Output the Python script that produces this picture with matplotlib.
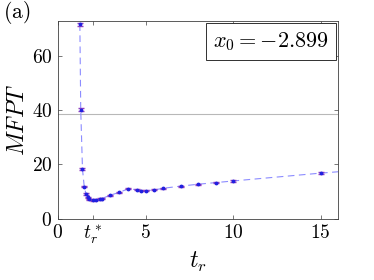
import matplotlib
matplotlib.use("Agg")
import matplotlib.pyplot as plt
import numpy as np

plt.rcParams['mathtext.fontset'] = 'cm'
plt.rcParams['font.family'] = ['DejaVu Serif']

t_r = [1.25, 1.3, 1.4, 1.5, 1.6, 1.7, 1.8, 2.0, 2.2, 2.4, 2.5, 3.0, 3.5, 4.0,
       4.5, 4.75, 5.0, 5.5, 6.0, 7.0, 8.0, 9.0, 10.0, 15.0, 20.0]
mfpt = [71.7, 40.2, 18.3, 11.8, 9.1, 7.9, 7.1, 6.9, 7.0, 7.25, 7.4, 8.7, 9.7, 11.0,
        10.7, 10.3, 10.3, 10.6, 11.2, 12.0, 12.7, 13.3, 13.9, 16.8, 19.3]
err = [0.6, 0.5, 0.3, 0.25, 0.2, 0.2, 0.2, 0.2, 0.2, 0.2, 0.2, 0.2, 0.2, 0.2,
       0.2, 0.2, 0.2, 0.2, 0.2, 0.2, 0.2, 0.2, 0.2, 0.25, 0.3]
h_line = 38.5
t_star = 2.0
x0_label = r'$x_0 = -2.899$'
xtick_vals = [0, t_star, 5, 10, 15]
xtick_labels = [r'$0$', r'$t_r^*$', r'$5$', r'$10$', r'$15$']
ytick_vals = [0, 20, 40, 60]
ytick_labels = [r'$0$', r'$20$', r'$40$', r'$60$']

fig = plt.figure(figsize=(3.74, 2.8), dpi=100)
ax = fig.add_axes([0.155, 0.219, 0.749, 0.707])

ax.axhline(h_line, color='#b8b8b8', lw=0.8, zorder=1)
ax.plot(t_r, mfpt, ls=(0, (6, 4)), color='#8c8cff', lw=0.8, zorder=2)
ax.errorbar(t_r, mfpt, yerr=err, fmt='.', color='#2020e0', ecolor='#9040c0',
            elinewidth=0.8, capsize=2, markersize=3.5, zorder=3)

ax.set_xlim(0, 16)
ax.set_ylim(0, 73)
ax.set_xticks(xtick_vals)
ax.set_xticklabels(xtick_labels, fontsize=14)
ax.set_yticks(ytick_vals)
ax.set_yticklabels(ytick_labels, fontsize=14)
ax.tick_params(direction='in', top=True, right=True, length=3, width=0.5,
               color='#404040', pad=4)
for s in ax.spines.values():
    s.set_linewidth(0.6)
    s.set_color('#404040')

ax.set_xlabel(r'$t_r$', fontsize=17, labelpad=2)
ax.set_ylabel(r'$MFPT$', fontsize=17, labelpad=2)

ax.text(0.967, 0.895, x0_label, transform=ax.transAxes, ha='right', va='center',
        fontsize=16,
        bbox=dict(boxstyle='square,pad=0.3', fc='white', ec='#303030', lw=0.7))

fig.text(0.008, 0.955, r'$\mathrm{(a)}$', fontsize=15.5, va='center')

fig.savefig('out.png', dpi=100)
